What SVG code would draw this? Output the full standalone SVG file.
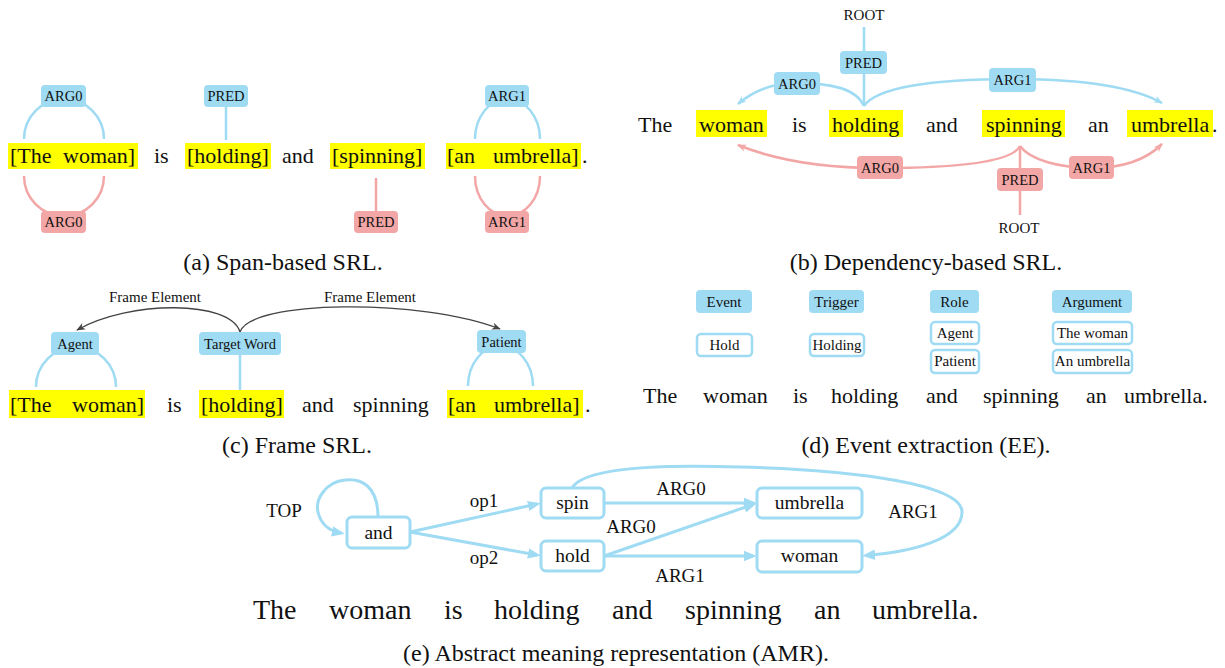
<svg xmlns="http://www.w3.org/2000/svg" width="1225" height="668" viewBox="0 0 1225 668">
<style>
text{font-family:"Liberation Serif","Times New Roman",serif;fill:#111}
.w{font-size:22px}
.big{font-size:28px}
.cap{font-size:24px;text-anchor:middle}
.lb{font-size:14.5px;text-anchor:middle}
.lb15{font-size:15px;text-anchor:middle}
.nd{font-size:19.5px;text-anchor:middle}
.el{font-size:19px;text-anchor:middle}
.hl{fill:#ffff00}
.bf{fill:#9fdbf3}
.rf{fill:#f3a6a6}
.bs{fill:none;stroke:#9fdbf3;stroke-width:2.5}
.rs{fill:none;stroke:#f3a6a6;stroke-width:2.5}
.ds{fill:none;stroke:#444;stroke-width:1.3}
.bx{fill:#fff;stroke:#9fdbf3;stroke-width:2.5}
.am{fill:none;stroke:#9fdbf3;stroke-width:3}
.an{fill:#fff;stroke:#9fdbf3;stroke-width:3}
</style>
<defs>
<marker id="mb" viewBox="0 0 10 10" refX="9" refY="5" markerWidth="9" markerHeight="9" markerUnits="userSpaceOnUse" orient="auto"><path d="M0,1 L10,5 L0,9 L3,5z" fill="#9fdbf3"/></marker>
<marker id="mr" viewBox="0 0 10 10" refX="9" refY="5" markerWidth="9" markerHeight="9" markerUnits="userSpaceOnUse" orient="auto"><path d="M0,1 L10,5 L0,9 L3,5z" fill="#f3a6a6"/></marker>
<marker id="md" viewBox="0 0 10 10" refX="9" refY="5" markerWidth="9" markerHeight="9" markerUnits="userSpaceOnUse" orient="auto"><path d="M0,1 L10,5 L0,9 L3,5z" fill="#444"/></marker>
<marker id="ma" viewBox="0 0 10 10" refX="7" refY="5" markerWidth="13" markerHeight="13" markerUnits="userSpaceOnUse" orient="auto"><path d="M0,1 L10,5 L0,9z" fill="#9fdbf3"/></marker>
</defs>

<!-- ===== (a) Span-based SRL ===== -->
<g id="a-sentence">
<rect class="hl" x="8" y="143" width="130" height="26"/>
<rect class="hl" x="185" y="143" width="86" height="26"/>
<rect class="hl" x="330" y="143" width="95" height="26"/>
<rect class="hl" x="446" y="143" width="135" height="26"/>
<text class="w" y="163"><tspan x="10">[The</tspan><tspan x="63">woman]</tspan><tspan x="154">is</tspan><tspan x="187">[holding]</tspan><tspan x="282">and</tspan><tspan x="332">[spinning]</tspan><tspan x="447">[an</tspan><tspan x="493">umbrella]</tspan><tspan x="582">.</tspan></text>
</g>

<g id="connectors">
<!-- (a) -->
<path class="bs" d="M24,139 A40,40 0 0 1 104,139"/>
<path class="rs" d="M24,176 A40,40 0 0 0 104,176"/>
<path class="bs" d="M226,107 L226,140"/>
<path class="rs" d="M376,178 L376,211"/>
<path class="bs" d="M475,139 A32.5,40 0 0 1 540,139"/>
<path class="rs" d="M475,176 A32.5,40 0 0 0 540,176"/>
<!-- (b) -->
<path class="bs" d="M864,27 L864,51"/>
<path class="bs" d="M864,74 L864,106"/>
<path class="bs" d="M864,106 C856,88 830,83 797,83 C770,83 752,92 738,104" marker-end="url(#mb)"/>
<path class="bs" d="M864,106 C876,88 930,79 1012,79 C1085,79 1135,88 1162,103" marker-end="url(#mb)"/>
<path class="rs" d="M1020,146 L1020,168"/>
<path class="rs" d="M1020,191 L1020,215"/>
<path class="rs" d="M1020,146 C1012,162 960,168 880,168 C820,168 775,160 738,145" marker-end="url(#mr)"/>
<path class="rs" d="M1020,146 C1030,160 1060,168 1092,168 C1125,168 1148,158 1162,144" marker-end="url(#mr)"/>
<!-- (c) -->
<path class="ds" d="M240,332 C230,300 130,300 77,330" marker-end="url(#md)"/>
<path class="ds" d="M240,332 C250,300 420,298 500,329" marker-end="url(#md)"/>
<path class="bs" d="M36,387 A40,40 0 0 1 116,387"/>
<path class="bs" d="M240,355 L240,392"/>
<path class="bs" d="M468,386 A32.5,40 0 0 1 533,386"/>
<!-- (e) -->
<path class="am" d="M378,517 C378,485 360,478 345,480 C325,482 315,500 318,512 C321,525 330,531 341,533" marker-end="url(#ma)"/>
<path class="am" d="M410,532 L537,504" marker-end="url(#ma)"/>
<path class="am" d="M410,532 L537,555" marker-end="url(#ma)"/>
<path class="am" d="M604,503 L753,503" marker-end="url(#ma)"/>
<path class="am" d="M604,556 L753,504.5" marker-end="url(#ma)"/>
<path class="am" d="M604,556 L753,556" marker-end="url(#ma)"/>
<path class="am" d="M572,488 C585,465 680,465 740,467 C860,470 962,485 962,512 C962,540 910,552 866,555.5" marker-end="url(#ma)"/>
</g>

<g id="a-arg0-top"><rect class="bf" x="41" y="85" width="45" height="22" rx="4"/><text class="lb" x="63.5" y="101">ARG0</text></g>
<g id="a-arg0-bot"><rect class="rf" x="41" y="211" width="45" height="22" rx="4"/><text class="lb" x="63.5" y="227">ARG0</text></g>
<g id="a-pred-top"><rect class="bf" x="204" y="85" width="44" height="22" rx="4"/><text class="lb" x="226" y="101">PRED</text></g>
<g id="a-pred-bot"><rect class="rf" x="354" y="211" width="44" height="22" rx="4"/><text class="lb" x="376" y="227">PRED</text></g>
<g id="a-arg1-top"><rect class="bf" x="485" y="85" width="44" height="22" rx="4"/><text class="lb" x="507" y="101">ARG1</text></g>
<g id="a-arg1-bot"><rect class="rf" x="485" y="211" width="44" height="22" rx="4"/><text class="lb" x="507" y="227">ARG1</text></g>
<text class="cap" x="283" y="270">(a) Span-based SRL.</text>

<!-- ===== (b) Dependency-based SRL ===== -->
<g id="b-sentence">
<rect class="hl" x="696" y="110" width="71" height="27"/>
<rect class="hl" x="829" y="110" width="74" height="27"/>
<rect class="hl" x="982" y="110" width="83" height="27"/>
<rect class="hl" x="1127" y="110" width="86" height="27"/>
<text class="w" y="132"><tspan x="638">The</tspan><tspan x="699">woman</tspan><tspan x="792">is</tspan><tspan x="832">holding</tspan><tspan x="926">and</tspan><tspan x="986">spinning</tspan><tspan x="1088">an</tspan><tspan x="1131">umbrella</tspan><tspan x="1212">.</tspan></text>
</g>
<g id="b-root-top"><text class="lb15" x="864" y="20">ROOT</text></g>
<g id="b-pred-top"><rect class="bf" x="840" y="51" width="47" height="23" rx="4"/><text class="lb" x="863.5" y="68">PRED</text></g>
<g id="b-arg0-top"><rect class="bf" x="774" y="72" width="46" height="23" rx="4"/><text class="lb" x="797" y="89">ARG0</text></g>
<g id="b-arg1-top"><rect class="bf" x="989" y="68" width="47" height="24" rx="4"/><text class="lb" x="1012.5" y="85">ARG1</text></g>
<g id="b-arg0-bot"><rect class="rf" x="857" y="156" width="46" height="23" rx="4"/><text class="lb" x="880" y="173">ARG0</text></g>
<g id="b-arg1-bot"><rect class="rf" x="1069" y="156" width="45" height="23" rx="4"/><text class="lb" x="1091.5" y="173">ARG1</text></g>
<g id="b-pred-bot"><rect class="rf" x="997" y="168" width="46" height="23" rx="4"/><text class="lb" x="1020" y="185">PRED</text></g>
<g id="b-root-bot"><text class="lb15" x="1019" y="233">ROOT</text></g>
<text class="cap" x="926" y="270">(b) Dependency-based SRL.</text>

<!-- ===== (c) Frame SRL ===== -->
<g id="c-sentence">
<rect class="hl" x="9" y="390" width="136" height="28"/>
<rect class="hl" x="199" y="390" width="85" height="28"/>
<rect class="hl" x="447" y="390" width="136" height="28"/>
<text class="w" y="412"><tspan x="10">[The</tspan><tspan x="72">woman]</tspan><tspan x="167">is</tspan><tspan x="201">[holding]</tspan><tspan x="302">and</tspan><tspan x="353">spinning</tspan><tspan x="448">[an</tspan><tspan x="494">umbrella]</tspan><tspan x="585">.</tspan></text>
</g>
<text class="lb15" x="155" y="302">Frame Element</text>
<text class="lb15" x="370" y="302">Frame Element</text>
<g id="c-agent"><rect class="bf" x="51" y="332" width="48" height="23" rx="4"/><text class="lb" x="75" y="349">Agent</text></g>
<g id="c-target"><rect class="bf" x="199" y="332" width="82" height="23" rx="4"/><text class="lb" x="240" y="349">Target Word</text></g>
<g id="c-patient"><rect class="bf" x="477" y="330" width="49" height="23" rx="4"/><text class="lb" x="501.5" y="347">Patient</text></g>
<text class="cap" x="297" y="453">(c) Frame SRL.</text>

<!-- ===== (d) Event extraction ===== -->
<g id="d-event"><rect class="bf" x="696" y="290" width="56" height="23" rx="4"/><text class="lb15" x="724" y="307">Event</text></g>
<g id="d-trigger"><rect class="bf" x="809" y="290" width="55" height="23" rx="4"/><text class="lb15" x="836.5" y="307">Trigger</text></g>
<g id="d-role"><rect class="bf" x="930" y="290" width="49" height="23" rx="4"/><text class="lb15" x="954.5" y="307">Role</text></g>
<g id="d-argument"><rect class="bf" x="1052" y="290" width="80" height="23" rx="4"/><text class="lb15" x="1092" y="307">Argument</text></g>
<g id="d-hold"><rect class="bx" x="697" y="334" width="55" height="22" rx="4"/><text class="lb15" x="724.5" y="350">Hold</text></g>
<g id="d-holding"><rect class="bx" x="810" y="334" width="54" height="22" rx="4"/><text class="lb15" x="837" y="350">Holding</text></g>
<g id="d-agent"><rect class="bx" x="931" y="322" width="48" height="22" rx="4"/><text class="lb15" x="955" y="338">Agent</text></g>
<g id="d-patient"><rect class="bx" x="931" y="350" width="48" height="23" rx="4"/><text class="lb15" x="955" y="366">Patient</text></g>
<g id="d-thewoman"><rect class="bx" x="1053" y="322" width="79" height="22" rx="4"/><text class="lb15" x="1092.5" y="338">The woman</text></g>
<g id="d-anumbrella"><rect class="bx" x="1053" y="350" width="79" height="23" rx="4"/><text class="lb15" x="1092.5" y="366">An umbrella</text></g>
<text class="w" y="403"><tspan x="643">The</tspan><tspan x="703">woman</tspan><tspan x="793">is</tspan><tspan x="831">holding</tspan><tspan x="926">and</tspan><tspan x="983">spinning</tspan><tspan x="1086">an</tspan><tspan x="1124">umbrella.</tspan></text>
<text class="cap" x="926" y="453">(d) Event extraction (EE).</text>

<!-- ===== (e) AMR ===== -->
<text class="el" x="284" y="517">TOP</text>
<text class="el" x="484" y="507">op1</text>
<text class="el" x="484" y="564">op2</text>
<text class="el" x="681" y="495">ARG0</text>
<text class="el" x="631" y="533">ARG0</text>
<text class="el" x="680" y="582">ARG1</text>
<text class="el" x="913" y="518">ARG1</text>
<g id="e-and"><rect class="an" x="347" y="517" width="63" height="31" rx="5"/><text class="nd" x="378.5" y="539">and</text></g>
<g id="e-spin"><rect class="an" x="541" y="488" width="63" height="30" rx="5"/><text class="nd" x="572.5" y="509">spin</text></g>
<g id="e-hold"><rect class="an" x="541" y="541" width="63" height="30" rx="5"/><text class="nd" x="572.5" y="562">hold</text></g>
<g id="e-umbrella"><rect class="an" x="757" y="488" width="105" height="30" rx="5"/><text class="nd" x="809.5" y="509">umbrella</text></g>
<g id="e-woman"><rect class="an" x="757" y="541" width="105" height="31" rx="5"/><text class="nd" x="809.5" y="562">woman</text></g>
<text class="big" y="619"><tspan x="253">The</tspan><tspan x="329">woman</tspan><tspan x="444">is</tspan><tspan x="494">holding</tspan><tspan x="612">and</tspan><tspan x="685">spinning</tspan><tspan x="814">an</tspan><tspan x="872">umbrella.</tspan></text>
<text class="cap" x="616" y="661">(e) Abstract meaning representation (AMR).</text>
</svg>
